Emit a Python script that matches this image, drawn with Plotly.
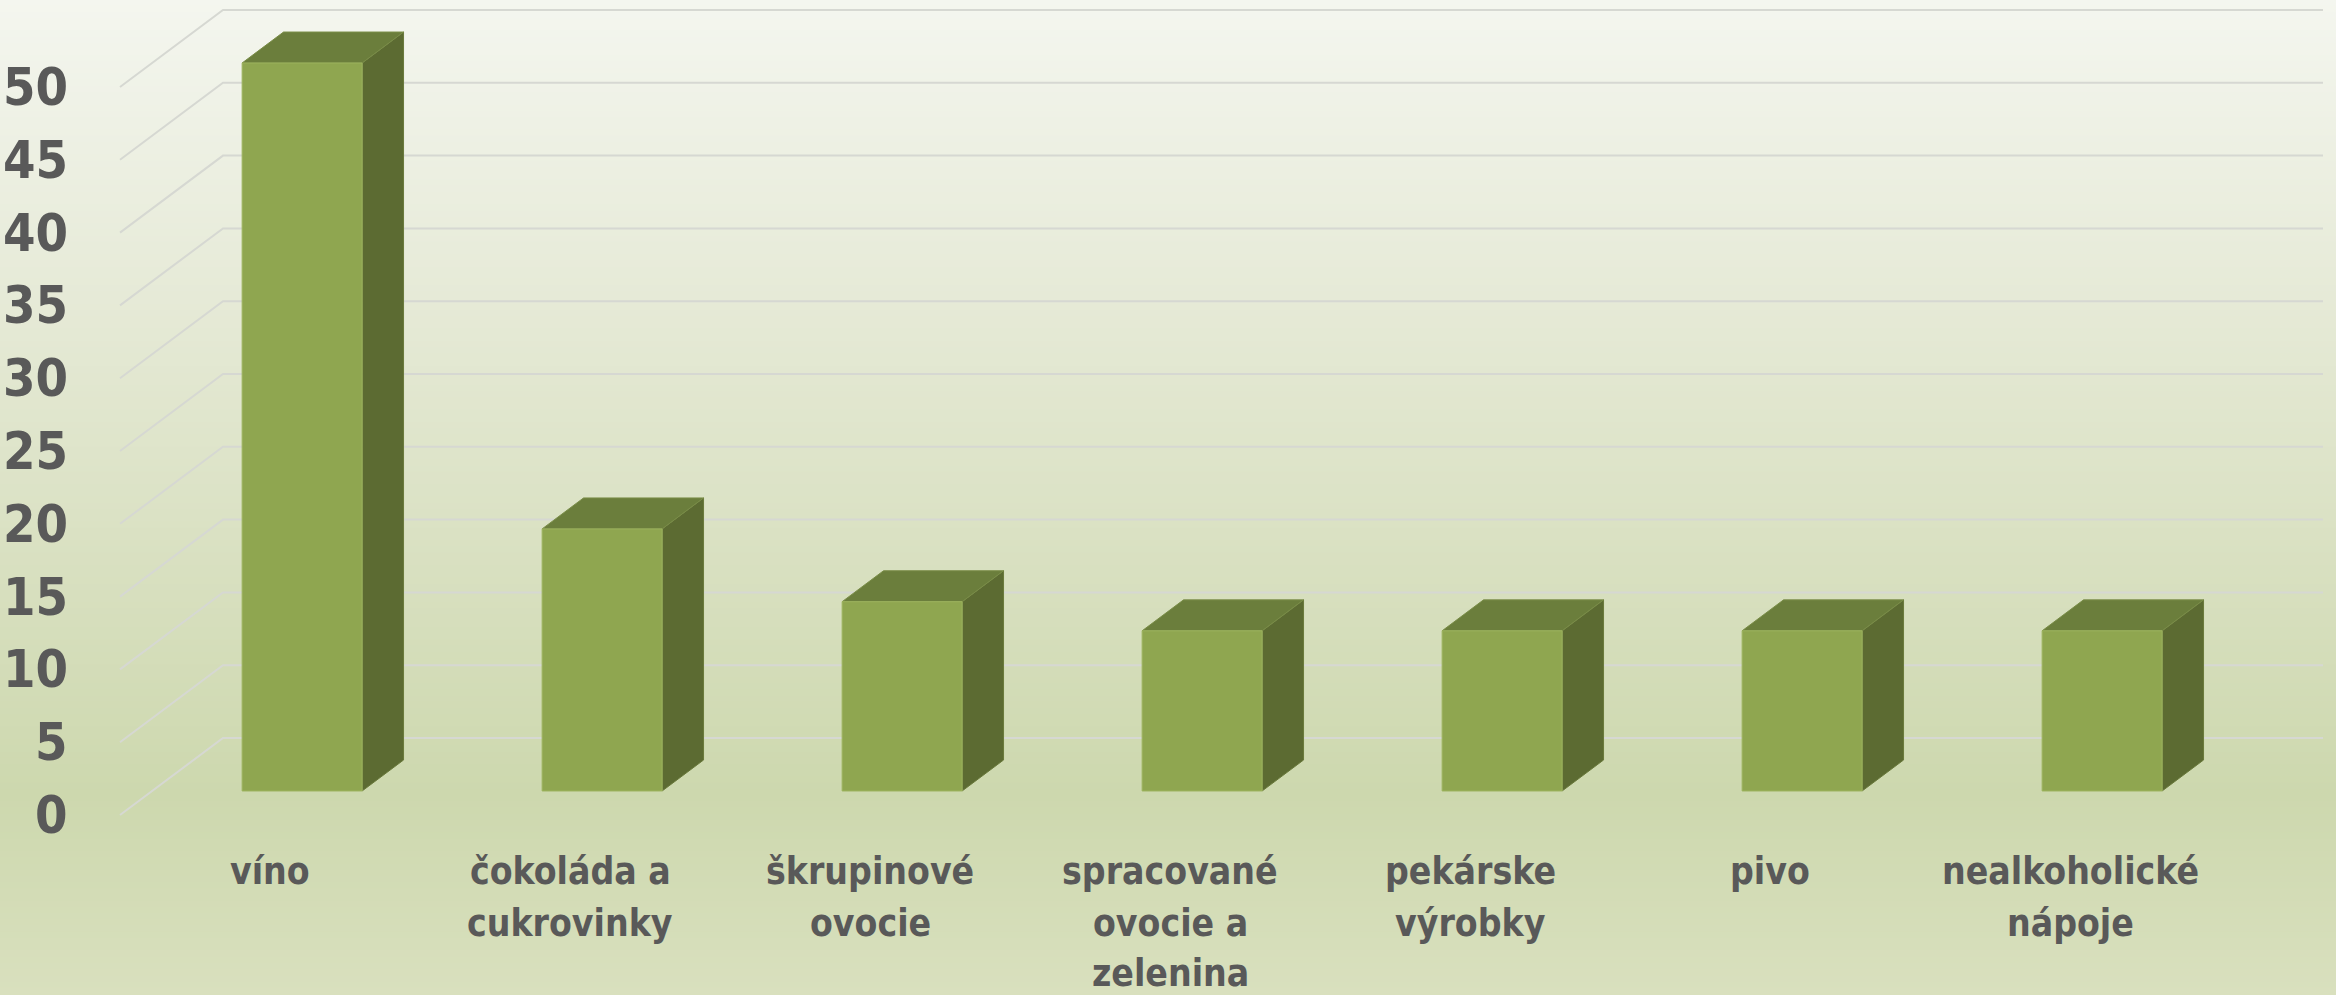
import plotly.graph_objects as go

# ---------------- data ----------------
categories = ["víno", "čokoláda a<br>cukrovinky", "škrupinové<br>ovocie",
              "spracované<br>ovocie a<br>zelenina", "pekárske<br>výrobky", "pivo",
              "nealkoholické<br>nápoje"]
values = [50, 18, 13, 11, 11, 11, 11]
tick_values = [0, 5, 10, 15, 20, 25, 30, 35, 40, 45, 50]
tick_labels = ["0", "5", "10", "15", "20", "25", "30", "35", "40", "45", "50"]

# ---------------- geometry / style ----------------
W, H = 2336, 995
PX_CAT = 300.0          # px per category slot
PX_UNIT = 14.56         # px per value unit
ORIG_X, ORIG_Y = 120.0, 815.0   # pixel of front-left floor corner (value 0)
DX = 103.0 / PX_CAT     # depth offset in category units
DY = 77.0 / PX_UNIT     # depth offset in value units
Z0, Z1 = 0.312, 0.714   # bar depth range (fraction of floor depth)
HALF = 0.2              # half bar width in category units

x_range = [-ORIG_X / PX_CAT, (W - ORIG_X) / PX_CAT]
y_range = [-(H - ORIG_Y) / PX_UNIT, ORIG_Y / PX_UNIT]

FRONT = "#8fa650"
TOP = "#6b7e3c"
SIDE = "#5c6b32"
GRID = "#d6d8d2"
TEXT = "#595959"
FONT = "DejaVu Sans Condensed, Liberation Sans Narrow, DejaVu Sans, sans-serif"


def P(x, z, v):
    return x + z * DX, v + z * DY


fig = go.Figure()

# ---- background gradient (strips) ----
stops = [(0.0, (244, 246, 239)), (0.30, (230, 234, 215)), (0.60, (215, 223, 190)),
         (0.80, (205, 216, 174)), (1.0, (217, 224, 190))]


def col_at(t):
    for (t0, c0), (t1, c1) in zip(stops[:-1], stops[1:]):
        if t0 <= t <= t1:
            f = (t - t0) / (t1 - t0)
            return "rgb(%d,%d,%d)" % tuple(round(a + (b - a) * f) for a, b in zip(c0, c1))
    return "rgb(%d,%d,%d)" % stops[-1][1]


shapes = []
N = 160
for k in range(N):
    t = (k + 0.5) / N
    shapes.append(dict(type="rect", xref="paper", yref="paper", x0=0, x1=1,
                       y0=1 - (k + 1) / N - 0.001, y1=1 - k / N + 0.001,
                       fillcolor=col_at(t), line=dict(width=0), layer="below"))

# ---- gridlines: side wall diagonals + back wall horizontals ----
gx, gy = [], []
ncat = len(categories)
for v in tick_values:
    x0, y0 = P(0, 0, v)
    x1, y1 = P(0, 1, v)
    x2, y2 = P(ncat, 1, v)
    gx += [x0, x1, x2, None]
    gy += [y0, y1, y2, None]
fig.add_trace(go.Scatter(x=gx, y=gy, mode="lines", line=dict(color=GRID, width=2),
                         hoverinfo="skip", showlegend=False))

# ---- 3D bars ----
for i, v in enumerate(values):
    xc = i + 0.5
    xl, xr = xc - HALF, xc + HALF
    side = [P(xr, Z0, 0), P(xr, Z1, 0), P(xr, Z1, v), P(xr, Z0, v)]
    top = [P(xl, Z0, v), P(xr, Z0, v), P(xr, Z1, v), P(xl, Z1, v)]
    front = [P(xl, Z0, 0), P(xr, Z0, 0), P(xr, Z0, v), P(xl, Z0, v)]
    for poly, c, lc in [(side, SIDE, "#6a7a3c"), (top, TOP, "#7a8d48"), (front, FRONT, "#9db35e")]:
        xs = [p[0] for p in poly] + [poly[0][0]]
        ys = [p[1] for p in poly] + [poly[0][1]]
        fig.add_trace(go.Scatter(x=xs, y=ys, mode="lines", fill="toself",
                                 fillcolor=c, line=dict(color=lc, width=1),
                                 hoverinfo="skip", showlegend=False))

# ---- annotations: tick labels and category labels ----
ann = []
for v, lab in zip(tick_values, tick_labels):
    ann.append(dict(x=-50 / PX_CAT, y=v, xref="x", yref="y", text=lab, showarrow=False,
                    xanchor="right", yanchor="middle",
                    font=dict(family=FONT, size=52, color=TEXT, weight="bold")))

line_px = [871, 923, 973]
for i, cat in enumerate(categories):
    for j, part in enumerate(cat.split("<br>")):
        ann.append(dict(x=i + 0.5, y=(ORIG_Y - line_px[j]) / PX_UNIT, xref="x", yref="y",
                        text=part, showarrow=False, xanchor="center", yanchor="middle",
                        font=dict(family=FONT, size=37, color=TEXT, weight="bold")))

fig.update_layout(
    width=W, height=H, autosize=False,
    margin=dict(l=0, r=0, t=0, b=0, pad=0),
    paper_bgcolor="rgb(225,231,208)", plot_bgcolor="rgba(0,0,0,0)",
    xaxis=dict(range=x_range, visible=False, fixedrange=True),
    yaxis=dict(range=y_range, visible=False, fixedrange=True),
    shapes=shapes, annotations=ann, showlegend=False,
)

fig.write_html("out.html", config={"displayModeBar": False},
               post_script="document.body.style.margin='0';document.body.style.overflow='hidden';")
